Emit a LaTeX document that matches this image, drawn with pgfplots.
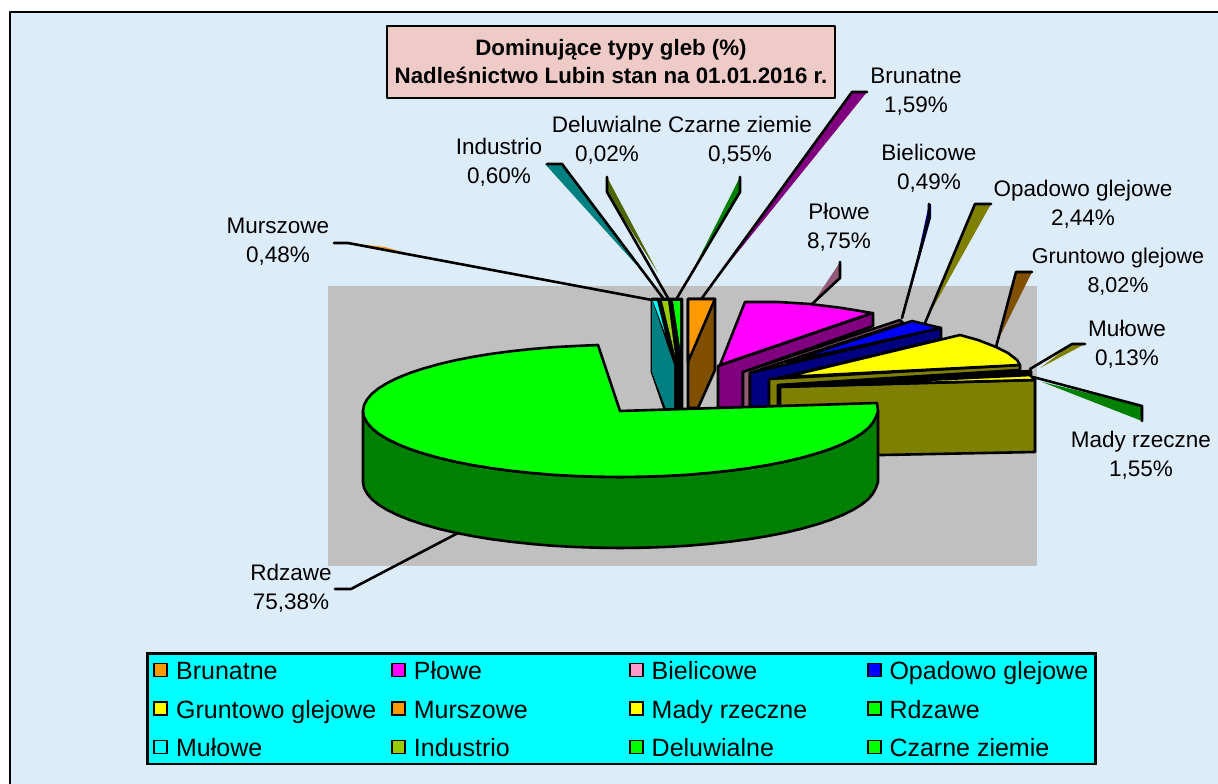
\documentclass[border=0pt]{standalone}
\usepackage{pgfplots}
\pgfplotsset{compat=1.18}
\usepackage{fontspec}
\setmainfont{Liberation Sans}
\definecolor{tlo}{RGB}{221,236,249}
\definecolor{szary}{RGB}{192,192,192}
\definecolor{tytul}{RGB}{238,203,198}
\definecolor{pomar}{RGB}{255,153,0}
\definecolor{braz}{RGB}{128,80,0}
\definecolor{fiolet}{RGB}{128,0,128}
\definecolor{granat}{RGB}{0,0,128}
\definecolor{oliwka}{RGB}{128,128,0}
\definecolor{ziel}{RGB}{0,128,0}
\definecolor{limonka}{RGB}{0,255,0}
\definecolor{morski}{RGB}{0,128,128}
\definecolor{ciemnol}{RGB}{77,102,0}
\definecolor{mauve}{RGB}{145,90,120}
\definecolor{roz}{RGB}{255,153,204}
\definecolor{zolziel}{RGB}{153,204,0}
\definecolor{cyjan}{RGB}{0,255,255}
\definecolor{majenta}{RGB}{255,0,255}
\definecolor{zolty}{RGB}{255,255,0}
\definecolor{niebieski}{RGB}{0,0,255}
\tikzset{
  sc/.style={draw=black,line width=2.6pt,line join=round},
  nolin/.style={draw=none},
  lin/.style={draw=black,line width=2.6pt,line join=round,line cap=round},
  et/.style={align=center,font=\fontsize{22.5}{29}\selectfont,inner sep=0pt},
}
\newcommand{\wpis}[2]{\makebox[#1pt][l]{\strut #2}}
% ostatni wiersz legendy: wieksze obnizenie, zeby ramka siegala dolu
\newcommand{\wpisd}[2]{\makebox[#1pt][l]{\rule[-13pt]{0pt}{13pt}\strut #2}}
\begin{document}
\begin{tikzpicture}
\begin{axis}[
    width=1218pt, height=784pt, scale only axis,
    xmin=0, xmax=1218, ymin=0, ymax=784, y dir=reverse,
    hide axis,
    legend columns=4,
    legend cell align=left,
    legend style={
        at={(axis cs:146,652)}, anchor=north west,
        fill=cyjan, draw=black, line width=2.6pt,
        font=\fontsize{25}{30}\selectfont,
        inner xsep=6pt, inner ysep=3.5pt,
        /tikz/every odd column/.append style={column sep=6pt},
        /tikz/every even column/.append style={column sep=0pt},
        /tikz/row sep=12pt,
    },
    legend image code/.code={
        \draw[#1,draw=black,line width=1.8pt] (0pt,-6.5pt) rectangle (13pt,6.5pt);
    },
]
% tlo
\addplot[fill=white,nolin,forget plot] coordinates {(0,0)(1218,0)(1218,784)(0,784)} --cycle;
\addplot[fill=tlo,nolin,forget plot] coordinates {(10,12)(1218,12)(1218,784)(10,784)} --cycle;
\addplot[lin,line width=2.8pt,forget plot] coordinates {(10,784)(10,12)(1218,12)};
\addplot[fill=szary,nolin,forget plot] coordinates {(328,286)(1037,286)(1037,566)(328,566)} --cycle;

% wyprowadzenia etykiet
\addplot[fill=fiolet,nolin,forget plot] coordinates {(852,92)(867,92)(725,268)} --cycle;
\addplot[lin,forget plot] coordinates {(702,298)(852,92)(867,92)};
\addplot[fill=ziel,nolin,forget plot] coordinates {(740,177)(740,192)(693,270)} --cycle;
\addplot[lin,forget plot] coordinates {(677,298)(740,192)(740,177)};
\addplot[fill=ciemnol,nolin,forget plot] coordinates {(607,177)(607,192)(658,273)} --cycle;
\addplot[lin,forget plot] coordinates {(668,298)(607,192)(607,177)};
\addplot[fill=morski,nolin,forget plot] coordinates {(545,164)(562,164)(650,280)} --cycle;
\addplot[lin,forget plot] coordinates {(663,298)(562,164)(547,164)};
\addplot[fill=pomar,nolin,forget plot] coordinates {(348,243)(420,257)(385,247)} --cycle;
\addplot[lin,forget plot] coordinates {(652,300)(348,243)(334,243)};
\addplot[fill=mauve,nolin,forget plot] coordinates {(840,262)(840,278)(815,300)} --cycle;
\addplot[lin,forget plot] coordinates {(812,304)(840,278)(840,262)};
\addplot[fill=granat,nolin,forget plot] coordinates {(929,204)(931,204)(931,218)(908,300)} --cycle;
\addplot[lin,forget plot] coordinates {(902,318)(929,218)(929,204)};
\addplot[fill=oliwka,nolin,forget plot] coordinates {(975,204)(991,204)(930,313)} --cycle;
\addplot[lin,forget plot] coordinates {(925,323)(975,204)(991,204)};
\addplot[fill=braz,nolin,forget plot] coordinates {(1016,272)(1032,272)(998,340)} --cycle;
\addplot[lin,forget plot] coordinates {(996,347)(1016,272)(1032,272)};
\addplot[fill=oliwka,nolin,forget plot] coordinates {(1072,344)(1085,344)(1040,368)} --cycle;
\addplot[lin,forget plot] coordinates {(1030,369)(1072,344)(1085,344)};
\addplot[fill=ziel,nolin,forget plot] coordinates {(1142,406)(1142,421)(1042,382)} --cycle;
\addplot[lin,forget plot] coordinates {(1033,377)(1142,406)(1142,421)};

% lewa grupa: Murszowe, Mulowe, Industrio, Deluwialne, Czarne ziemie
\addplot[fill=black,sc,forget plot] coordinates {(652,299)(682,299)(682,410)(665,410)(652,372)} --cycle;
\addplot[fill=morski,nolin,forget plot] coordinates {(652,300)(652,372)(666,409)(674,409)(674,365)} --cycle;
\addplot[fill=cyjan,nolin,forget plot] coordinates {(653,301)(657,301)(665,333)} --cycle;
\addplot[fill=zolziel,nolin,forget plot] coordinates {(662,301)(668,301)(675,355)} --cycle;
\addplot[fill=limonka,nolin,forget plot] coordinates {(673,301)(680,301)(680,347)} --cycle;

% Brunatne
\addplot[fill=braz,sc,forget plot] coordinates {(688,299)(715,299)(715,370)(698,408)(688,408)} --cycle;
\addplot[fill=pomar,sc,forget plot] coordinates {(688,299)(715,299)(688,362)} --cycle;

% Plowe
\addplot[fill=fiolet,sc,forget plot] coordinates {(718,366)(873,313)(873,326)(743,372)(743,408)(718,408)} --cycle;
\addplot[fill=majenta,sc,forget plot] coordinates {(745,302)(778,302)(810,304)(842,308)(872,313)(720,365)} --cycle;

% Bielicowe
\addplot[fill=mauve,sc,forget plot] coordinates {(743,372)(900,320)(903,323)(750,373)(750,408)(743,408)} --cycle;

% Opadowo glejowe
\addplot[fill=granat,sc,forget plot] coordinates {(750,373)(941,328)(941,339)(770,380)(770,408)(750,408)} --cycle;
\addplot[fill=niebieski,sc,forget plot] coordinates {(787,362)(912,321)(941,328)} --cycle;

% Gruntowo glejowe
\addplot[fill=oliwka,sc,forget plot] coordinates {(769,379)(1020,365)(1020,370)(778,385)(778,408)(769,408)} --cycle;
\addplot[fill=zolty,sc,forget plot] coordinates {(785,377)(960,335)(978,340)(996,347)(1008,353)(1017,360)(1020,365)} --cycle;

% Mulowe
\addplot[fill=black,sc,forget plot] coordinates {(778,386)(1031,371)(1031,375)(780,387)} --cycle;

% Mady rzeczne
\addplot[fill=oliwka,sc,forget plot] coordinates {(780,387)(1035,380)(1035,452)(780,457)} --cycle;
\addplot[fill=zolty,sc,forget plot] coordinates {(800,386)(1030,375)(1035,380)} --cycle;

% Rdzawe
\addplot[fill=ziel,sc,forget plot] coordinates {
  (363,411)(364,416.8)(367,422.5)(371.7,428.1)(378.5,433.6)(387.1,438.9)(397.4,444)(409.5,448.9)(423.1,453.4)(438.3,457.7)
  (454.8,461.6)(472.5,465.1)(491.5,468.2)(511.4,470.8)(532.1,473)(553.4,474.8)(575.4,476)(597.6,476.7)(620,477)
  (642.4,476.7)(664.6,476)(686.6,474.8)(707.9,473)(728.6,470.8)(748.5,468.2)(767.5,465.1)(785.2,461.6)(801.7,457.7)
  (816.9,453.4)(830.5,448.9)(842.6,444)(852.9,438.9)(861.5,433.6)(868.3,428.1)(873,422.5)(876,416.8)(878,411)
  (878,482)(876,487.8)(873,493.5)(868.3,499.1)(861.5,504.6)(852.9,509.9)(842.6,515)(830.5,519.9)(816.9,524.4)(801.7,528.7)
  (785.2,532.6)(767.5,536.1)(748.5,539.2)(728.6,541.8)(707.9,544)(686.6,545.8)(664.6,547)(642.4,547.7)(620,548)
  (597.6,547.7)(575.4,547)(553.4,545.8)(532.1,544)(511.4,541.8)(491.5,539.2)(472.5,536.1)(454.8,532.6)(438.3,528.7)
  (423.1,524.4)(409.5,519.9)(397.4,515)(387.1,509.9)(378.5,504.6)(371.7,499.1)(367,493.5)(364,487.8)(363,482)
} --cycle;
\addplot[fill=limonka,sc,forget plot] coordinates {
  (620,411)(877,403)(878,411)(876,416.8)(873,422.5)(868.3,428.1)(861.5,433.6)(852.9,438.9)(842.6,444)(830.5,448.9)(816.9,453.4)
  (801.7,457.7)(785.2,461.6)(767.5,465.1)(748.5,468.2)(728.6,470.8)(707.9,473)(686.6,474.8)(664.6,476)(642.4,476.7)(620,477)
  (597.6,476.7)(575.4,476)(553.4,474.8)(532.1,473)(511.4,470.8)(491.5,468.2)(472.5,465.1)(454.8,461.6)(438.3,457.7)(423.1,453.4)
  (409.5,448.9)(397.4,444)(387.1,438.9)(378.5,433.6)(371.7,428.1)(367,422.5)(364,416.8)(363,411)
  (364,405.2)(367,399.5)(371.7,393.9)(378.5,388.4)(387.1,383.1)(397.4,378)(409.5,373.1)(423.1,368.6)(438.3,364.3)
  (454.8,360.4)(472.5,356.9)(491.5,353.8)(511.4,351.2)(532.1,349)(553.4,347.2)(575.4,346)(598,345)
} --cycle;
\addplot[lin,forget plot] coordinates {(458,533)(351,589)(335,589)};

% tytul
\addplot[fill=tytul,sc,forget plot] coordinates {(387,26)(835,26)(835,98)(387,98)} --cycle;

% legenda
\addlegendimage{fill=pomar}\addlegendentry{\wpis{213}{Brunatne}}
\addlegendimage{fill=majenta}\addlegendentry{\wpis{213}{Płowe}}
\addlegendimage{fill=roz}\addlegendentry{\wpis{213}{Bielicowe}}
\addlegendimage{fill=niebieski}\addlegendentry{\wpis{198}{Opadowo glejowe}}
\addlegendimage{fill=zolty}\addlegendentry{\wpis{213}{Gruntowo glejowe}}
\addlegendimage{fill=pomar}\addlegendentry{\wpis{213}{Murszowe}}
\addlegendimage{fill=zolty}\addlegendentry{\wpis{213}{Mady rzeczne}}
\addlegendimage{fill=limonka}\addlegendentry{\wpis{198}{Rdzawe}}
\addlegendimage{fill=cyjan}\addlegendentry{\wpisd{213}{Mułowe}}
\addlegendimage{fill=zolziel}\addlegendentry{\wpisd{213}{Industrio}}
\addlegendimage{fill=limonka}\addlegendentry{\wpisd{213}{Deluwialne}}
\addlegendimage{fill=limonka}\addlegendentry{\wpisd{198}{Czarne ziemie}}

\node[align=center,font=\fontsize{22.3}{28}\bfseries\selectfont,inner sep=0pt] at (axis cs:611,62)
    {Dominujące typy gleb (\%)\\Nadleśnictwo Lubin stan na 01.01.2016 r.};
\node[et] at (axis cs:916,92) {Brunatne\\1,59\%};
\node[et] at (axis cs:929,168) {Bielicowe\\0,49\%};
\node[et] at (axis cs:1083,204) {Opadowo glejowe\\2,44\%};
\node[et] at (axis cs:839,227) {Płowe\\8,75\%};
\node[et,font=\fontsize{21.5}{29}\selectfont] at (axis cs:1118,272) {Gruntowo glejowe\\8,02\%};
\node[et] at (axis cs:1127,344) {Mułowe\\0,13\%};
\node[et] at (axis cs:1141,455) {Mady rzeczne\\1,55\%};
\node[et] at (axis cs:291,588) {Rdzawe\\75,38\%};
\node[et] at (axis cs:278,242) {Murszowe\\0,48\%};
\node[et] at (axis cs:499,162) {Industrio\\0,60\%};
\node[et] at (axis cs:607,140) {Deluwialne\\0,02\%};
\node[et] at (axis cs:740,140) {Czarne ziemie\\0,55\%};
\end{axis}
\end{tikzpicture}
\end{document}
